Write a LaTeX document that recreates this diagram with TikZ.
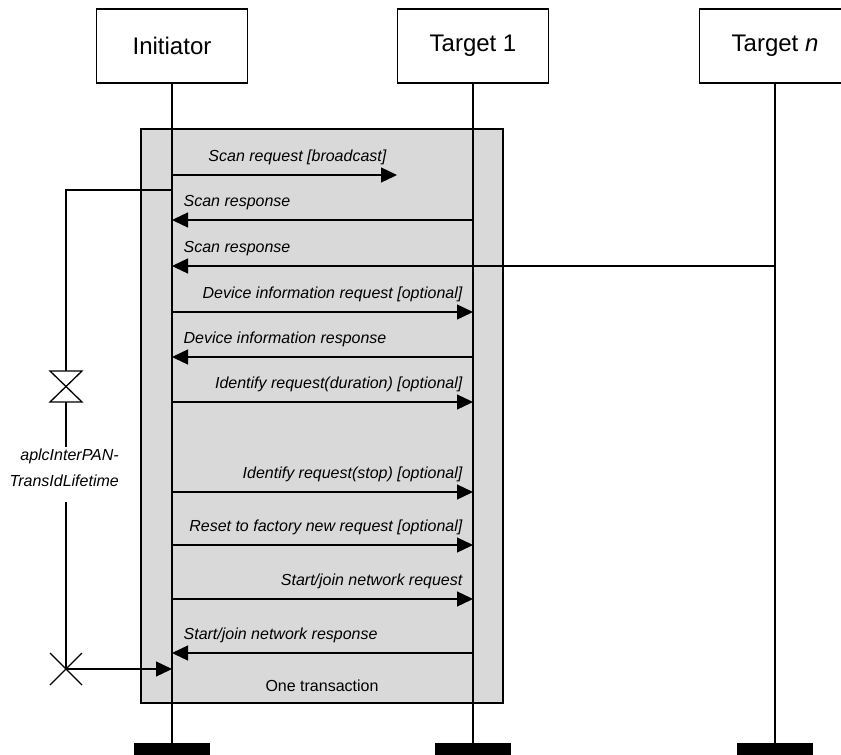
\documentclass[tikz,border=0pt]{standalone}
\usepackage{fontspec}
\setmainfont{Liberation Sans}
\usetikzlibrary{calc, positioning, arrows.meta}
\definecolor{txgray}{RGB}{217,217,217}

\begin{document}
\begin{tikzpicture}[x=1pt, y=-1pt,
  head/.style={rectangle, draw, line width=1.3pt,
    minimum width=151pt, minimum height=74pt,
    font=\fontsize{24}{27}\selectfont},
  bar/.style={rectangle, fill=black, minimum width=76pt,
    minimum height=12pt, inner sep=0pt},
  life/.style={line width=1.3pt},
  msg/.style={-{Triangle[length=16pt, width=15pt]}, line width=1.3pt},
  lblr/.style={anchor=base east, inner sep=0pt, xshift=-10pt, yshift=14pt,
    font=\fontsize{16}{20}\selectfont\itshape},
  lbll/.style={anchor=base west, inner sep=0pt, xshift=11pt, yshift=14pt,
    font=\fontsize{16}{20}\selectfont\itshape}
]
\useasboundingbox (0,0) rectangle (841,755);

% transaction frame
\node[rectangle, fill=txgray, draw, line width=1.3pt,
  minimum width=362pt, minimum height=574pt] (frame) at (322,416) {};
\node[font=\fontsize{16}{20}\selectfont] (ftext) at (322,686) {One transaction};

% heads, ends, lifelines
\node[head] (init) at (172,46) {Initiator};
\node[head] (tgt1) at (473,46) {Target 1};
\node[head] (tgtn) at (775,46) {Target \textit{n}};
\node[bar] (endi) at (172,749) {};
\node[bar] (end1) at (473,749) {};
\node[bar] (endn) at (775,749) {};
\draw[life] (init) -- (endi);
\draw[life] (tgt1) -- (end1);
\draw[life] (tgtn) -- (endn);

% messages
\coordinate (m1) at (0,175);
\coordinate (m2) at (0,220);
\coordinate (m3) at (0,266);
\coordinate (m4) at (0,312);
\coordinate (m5) at (0,357);
\coordinate (m6) at (0,402);
\coordinate (m7) at (0,492);
\coordinate (m8) at (0,545);
\coordinate (m9) at (0,599);
\coordinate (m10) at (0,653);
\coordinate (bcast) at (397,175);
\draw[msg] (init |- m1) -- (bcast) node[lblr, pos=1] {Scan request [broadcast]};
\draw[msg] (tgt1 |- m2) -- (init |- m2) node[lbll, pos=1] {Scan response};
\draw[msg] (tgtn |- m3) -- (init |- m3) node[lbll, pos=1] {Scan response};
\draw[msg] (init |- m4) -- (tgt1 |- m4) node[lblr, pos=1] {Device information request [optional]};
\draw[msg] (tgt1 |- m5) -- (init |- m5) node[lbll, pos=1] {Device information response};
\draw[msg] (init |- m6) -- (tgt1 |- m6) node[lblr, pos=1] {Identify request(duration) [optional]};
\draw[msg] (init |- m7) -- (tgt1 |- m7) node[lblr, pos=1] {Identify request(stop) [optional]};
\draw[msg] (init |- m8) -- (tgt1 |- m8) node[lblr, pos=1] {Reset to factory new request [optional]};
\draw[msg] (init |- m9) -- (tgt1 |- m9) node[lblr, pos=1] {Start/join network request};
\draw[msg] (tgt1 |- m10) -- (init |- m10) node[lbll, pos=1] {Start/join network response};

% timer
\coordinate (tmtop) at (66,190);
\coordinate (hg) at (66,386.5);
\coordinate (tmmid) at (66,447);
\coordinate (tmlow) at (66,502);
\coordinate (tmend) at (66,669);
\node[align=right, anchor=east, inner sep=0pt, font=\fontsize{16}{26}\selectfont\itshape]
  (tmlbl) at (119,468) {aplcInterPAN-\\TransIdLifetime};
\draw[life] (init |- tmtop) -- (tmtop) -- ($(hg)+(0,-15.5)$);
\draw[life] ($(hg)+(-16,-15.5)$) -- ++(32,0) -- ($(hg)+(-16,15.5)$) -- ++(32,0) -- cycle;
\draw[life] ($(hg)+(0,15.5)$) -- (tmmid);
\draw[life] (tmlow) -- (tmend);
\draw[life] ($(tmend)+(-16,-16)$) -- ($(tmend)+(16,16)$);
\draw[life] ($(tmend)+(-16,16)$) -- ($(tmend)+(16,-16)$);
\draw[msg] (tmend) -- (init |- tmend);
\end{tikzpicture}
\end{document}
